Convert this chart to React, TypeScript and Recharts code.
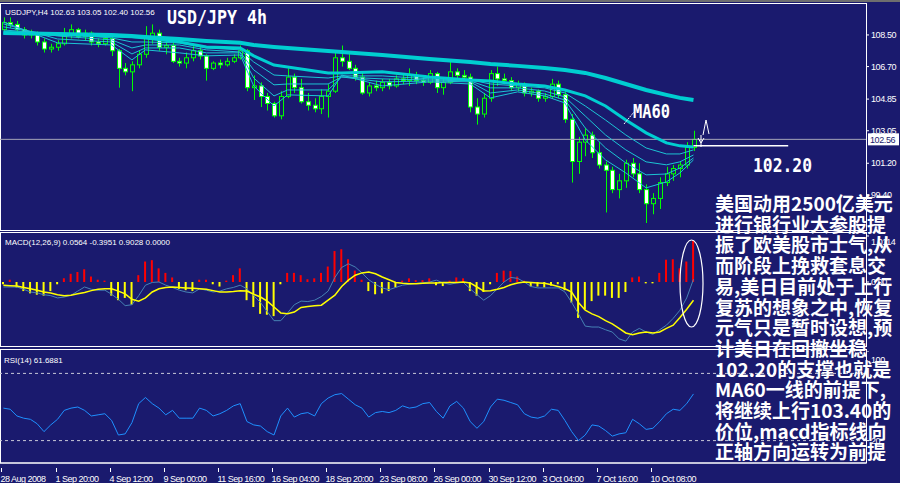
import React from "react";
import { ComposedChart, Bar, Line, XAxis, YAxis, ReferenceLine, Cell } from "recharts";

// USD/JPY H4, one slot = two 4h bars (8 hours)
const opens = [108.8, 109.2, 109.1, 108.8, 108.5, 108.6, 108.1, 107.7, 107.8, 108.0, 108.5, 108.8, 108.4, 108.6, 108.1, 108.0, 108.3, 107.6, 106.6, 106.4, 106.8, 107.4, 108.4, 108.6, 107.8, 107.9, 107.0, 106.9, 107.2, 107.6, 107.3, 106.6, 106.9, 106.8, 107.0, 107.2, 107.6, 105.5, 105.6, 105.0, 104.6, 103.9, 105.0, 106.1, 105.5, 104.7, 104.5, 104.3, 105.0, 105.3, 107.2, 107.0, 106.6, 106.1, 105.2, 105.6, 105.5, 105.8, 105.6, 106.0, 105.9, 106.2, 105.9, 105.8, 106.3, 105.5, 105.8, 106.4, 106.2, 106.1, 104.4, 104.0, 104.9, 106.3, 106.0, 105.9, 105.5, 105.7, 105.2, 105.3, 104.9, 105.0, 105.7, 105.1, 103.7, 101.3, 102.4, 102.8, 101.8, 101.1, 100.8, 99.7, 100.2, 101.2, 100.6, 99.7, 98.9, 99.2, 100.1, 100.6, 100.9, 101.1, 102.1];
const highs = [109.5, 109.5, 109.3, 108.95, 108.8, 108.7, 108.3, 108.0, 108.2, 108.9, 109.1, 108.9, 108.8, 108.7, 108.3, 108.4, 108.4, 107.7, 106.9, 107.0, 107.6, 109.0, 109.1, 108.8, 108.1, 108.2, 107.2, 107.5, 107.9, 107.8, 107.4, 107.0, 107.1, 107.2, 107.4, 107.9, 107.7, 106.2, 105.8, 105.2, 104.7, 105.3, 106.6, 106.3, 106.0, 105.2, 104.9, 105.4, 105.7, 107.6, 107.9, 107.5, 106.8, 106.4, 105.8, 105.9, 106.0, 106.0, 106.2, 106.3, 106.6, 106.4, 106.1, 106.5, 106.4, 106.0, 107.0, 106.6, 106.5, 106.3, 104.9, 105.2, 106.5, 106.7, 106.3, 106.1, 105.9, 105.8, 105.5, 105.4, 105.2, 106.0, 105.9, 105.3, 104.0, 102.7, 103.2, 103.0, 102.4, 101.3, 101.0, 100.6, 101.4, 101.5, 101.2, 100.0, 99.5, 100.4, 101.0, 101.1, 101.3, 102.4, 103.05];
const lows = [108.6, 108.9, 108.7, 108.3, 108.3, 107.9, 107.5, 107.5, 107.6, 107.9, 108.3, 108.3, 108.2, 107.9, 107.8, 107.9, 107.3, 105.5, 106.2, 105.3, 106.6, 107.2, 108.0, 107.6, 107.4, 106.9, 106.7, 106.6, 107.0, 107.1, 105.9, 106.5, 106.6, 106.7, 106.9, 107.1, 105.3, 104.8, 104.4, 104.2, 103.8, 103.7, 104.9, 105.2, 104.6, 104.2, 104.1, 104.0, 103.8, 105.2, 106.7, 106.5, 105.9, 105.1, 105.0, 105.3, 105.3, 105.4, 105.5, 105.7, 105.6, 105.7, 105.6, 105.7, 105.2, 105.1, 105.7, 106.0, 105.9, 104.1, 103.4, 103.8, 104.7, 105.6, 105.7, 105.3, 105.3, 105.0, 105.0, 104.7, 104.7, 104.9, 104.9, 103.5, 100.1, 100.6, 101.6, 101.5, 100.9, 98.4, 99.5, 99.2, 99.8, 100.4, 99.5, 97.8, 98.3, 98.6, 99.9, 100.2, 100.4, 100.9, 101.9];
const closes = [109.2, 109.1, 108.8, 108.5, 108.6, 108.1, 107.7, 107.8, 108.0, 108.5, 108.8, 108.4, 108.6, 108.1, 108.0, 108.3, 107.6, 106.6, 106.4, 106.8, 107.4, 108.4, 108.6, 107.8, 107.9, 107.0, 106.9, 107.2, 107.6, 107.3, 106.6, 106.9, 106.8, 107.0, 107.2, 107.6, 105.5, 105.6, 105.0, 104.6, 103.9, 105.0, 106.1, 105.5, 104.7, 104.5, 104.3, 105.0, 105.3, 107.2, 107.0, 106.6, 106.1, 105.2, 105.6, 105.5, 105.8, 105.6, 106.0, 105.9, 106.2, 105.9, 105.8, 106.3, 105.5, 105.8, 106.4, 106.2, 106.1, 104.4, 104.0, 104.9, 106.3, 106.0, 105.9, 105.5, 105.7, 105.2, 105.3, 104.9, 105.0, 105.7, 105.1, 103.7, 101.3, 102.4, 102.8, 101.8, 101.1, 100.8, 99.7, 100.2, 101.2, 100.6, 99.7, 98.9, 99.2, 100.1, 100.6, 100.9, 101.1, 102.1, 102.56];

// moving averages, read at these slots
const maSlots = [0, 8, 16, 19, 21, 26, 30, 35, 37, 40, 42, 48, 50, 56, 63, 69, 72, 76, 80, 83, 86, 89, 92, 95, 98, 100, 102];
const maSlow = [108.61, 108.56, 108.5, 108.44, 108.39, 108.27, 108.16, 108.05, 107.93, 107.82, 107.76, 107.59, 107.53, 107.36, 107.13, 106.96, 106.85, 106.74, 106.62, 106.51, 106.34, 106.05, 105.71, 105.37, 105.09, 104.92, 104.8];
const ma60 = [108.61, 108.56, 108.44, 108.39, 108.33, 108.1, 107.82, 107.76, 107.31, 106.79, 106.68, 106.34, 106.34, 106.4, 106.11, 105.94, 105.88, 105.71, 105.6, 105.37, 105.03, 104.46, 103.66, 102.93, 102.36, 102.19, 102.13];
const ribbon4 = [108.78, 108.56, 108.33, 108.1, 108.1, 108.05, 107.76, 107.65, 106.96, 106.22, 106.17, 106.05, 106.17, 106.17, 106.0, 105.94, 105.71, 105.6, 105.49, 105.2, 104.46, 103.66, 102.81, 102.07, 101.73, 101.73, 101.96];
const ribbon3 = [108.96, 108.44, 108.22, 107.76, 107.93, 107.93, 107.65, 107.53, 106.51, 105.66, 105.71, 105.71, 106.11, 106.0, 105.94, 105.88, 105.49, 105.49, 105.31, 104.97, 103.89, 102.81, 101.96, 101.28, 101.11, 101.28, 101.67];
const ribbon2 = [109.13, 108.27, 108.1, 107.42, 107.76, 107.76, 107.48, 107.48, 106.05, 105.03, 105.37, 105.37, 106.11, 105.83, 105.88, 105.83, 105.2, 105.37, 105.14, 104.8, 103.21, 102.07, 101.22, 100.54, 100.59, 100.93, 101.5];
const ribbon1 = [109.24, 108.05, 107.93, 107.08, 107.65, 107.48, 107.31, 107.36, 105.6, 104.46, 105.09, 105.03, 106.22, 105.6, 105.83, 105.71, 104.92, 105.26, 105.03, 104.63, 102.53, 101.39, 100.65, 99.8, 100.14, 100.65, 101.39];

const macdHist = [-0.05, 0.05, -0.12, -0.2, -0.25, -0.28, -0.3, -0.2, -0.05, 0.08, 0.18, 0.22, 0.28, 0.12, 0.05, 0.03, -0.3, -0.4, -0.35, -0.5, 0.15, 0.45, 0.48, 0.3, 0.2, 0.1, -0.15, -0.18, -0.2, 0.05, 0.05, -0.05, -0.1, 0.03, 0.15, 0.3, -0.4, -0.55, -0.7, -0.72, -0.75, -0.05, 0.2, 0.2, 0.15, 0.06, 0.08, 0.2, 0.34, 0.68, 0.72, 0.5, 0.25, 0.05, -0.2, -0.27, -0.25, -0.2, -0.12, 0.03, 0.08, 0.04, 0.04, 0.08, -0.07, -0.09, 0.03, 0.1, 0.08, -0.2, -0.3, -0.22, -0.05, 0.2, 0.25, 0.24, 0.12, 0.03, -0.1, -0.1, -0.12, -0.08, -0.05, -0.18, -0.45, -0.79, -0.6, -0.42, -0.3, -0.3, -0.35, -0.35, -0.22, 0.1, 0.12, -0.03, -0.03, 0.2, 0.49, 0.5, 0.3, 0.45, 0.9];
const macdMain = [-0.11, -0.11, -0.11, -0.16, -0.22, -0.24, -0.28, -0.3, -0.35, -0.33, -0.29, -0.2, -0.11, -0.16, -0.18, -0.18, -0.27, -0.38, -0.52, -0.5, -0.3, -0.07, -0.01, 0, -0.07, -0.12, -0.18, -0.22, -0.24, -0.15, -0.18, -0.22, -0.2, -0.15, -0.12, -0.07, -0.15, -0.3, -0.45, -0.65, -0.85, -0.85, -0.68, -0.5, -0.42, -0.43, -0.4, -0.32, -0.2, 0.1, 0.32, 0.4, 0.33, 0.2, 0.05, -0.05, -0.13, -0.17, -0.12, -0.07, -0.05, -0.03, -0.02, 0, 0.04, -0.02, -0.05, -0.02, -0.01, -0.15, -0.28, -0.4, -0.3, -0.15, 0, 0.1, 0.08, 0, -0.1, -0.13, -0.13, -0.13, -0.13, -0.22, -0.45, -0.7, -0.97, -0.99, -0.99, -1.05, -1.1, -1.25, -1.3, -1.1, -1.02, -1.1, -1.15, -1.05, -0.95, -0.8, -0.62, -0.35, 0.06];
const macdSignal = [-0.07, -0.08, -0.09, -0.12, -0.15, -0.18, -0.22, -0.24, -0.28, -0.3, -0.29, -0.26, -0.23, -0.19, -0.16, -0.15, -0.15, -0.2, -0.26, -0.38, -0.42, -0.35, -0.22, -0.15, -0.12, -0.11, -0.12, -0.13, -0.14, -0.15, -0.16, -0.19, -0.22, -0.22, -0.21, -0.19, -0.2, -0.27, -0.33, -0.42, -0.55, -0.68, -0.7, -0.66, -0.56, -0.54, -0.52, -0.51, -0.4, -0.29, -0.1, 0.04, 0.15, 0.2, 0.22, 0.18, 0.11, 0.05, -0.01, -0.03, -0.04, -0.04, -0.03, -0.02, -0.02, -0.01, -0.01, -0.01, 0, -0.02, -0.11, -0.2, -0.19, -0.16, -0.12, -0.06, -0.02, 0, -0.01, -0.02, -0.03, -0.06, -0.1, -0.15, -0.22, -0.45, -0.62, -0.7, -0.76, -0.85, -0.92, -1.02, -1.12, -1.16, -1.12, -1.1, -1.12, -1.1, -1.02, -0.95, -0.78, -0.6, -0.4];
const rsi = [49, 48, 42, 40, 39, 35, 28, 34, 39, 47, 49, 50, 47, 42, 43, 44, 38, 25, 26, 36, 53, 58.5, 53, 49, 43, 47, 40, 40, 40, 49, 47, 42, 44, 47, 51, 53, 37, 34, 33, 28, 25, 42, 49, 41, 44, 45, 42, 53, 58, 61, 62, 57, 52, 49, 41, 45, 46, 45, 47, 51, 49, 50, 53, 54, 46, 40, 51, 55, 49, 37, 31, 37, 50, 57, 56, 54, 52, 44, 41, 40, 42, 48, 47, 38, 28, 20, 25, 34, 33, 29, 24, 26, 27, 39, 35, 30, 31, 37, 44, 48, 47, 53, 61.69];

const timeLabels = ["28 Aug 2008", "1 Sep 20:00", "4 Sep 12:00", "9 Sep 00:00", "11 Sep 16:00", "16 Sep 04:00", "18 Sep 20:00", "23 Sep 08:00", "26 Sep 00:00", "30 Sep 12:00", "3 Oct 04:00", "7 Oct 16:00", "10 Oct 08:00"];
const priceTicks = [97.6, 99.4, 101.2, 103.05, 104.85, 106.7, 108.5];
const macdTicks = [-1.3772, 0, 1.0114];
const rsiTicks = [0, 20, 80, 100];
const rsiLevels = [80, 20];
const support = 102.2;

const notes = [
  "美国动用2500亿美元",
  "进行银行业大参股提",
  "振了欧美股市士气,从",
  "而阶段上挽救套息交",
  "易,美日目前处于上行",
  "复苏的想象之中,恢复",
  "元气只是暂时设想,预",
  "计美日在回撤坐稳",
  "102.20的支撑也就是",
  "MA60一线的前提下,",
  "将继续上行103.40的",
  "价位,macd指标线向",
  "正轴方向运转为前提",
];

const SLOTS = 128;
const TICK_EVERY = 8;
const BG = "#1a1a6e";
const GREEN = "#00ff00";
const W = 900;
const AXIS_W = 34;
const last = closes.length - 1;

const rows = Array.from({ length: SLOTS }, (_, i) => {
  const row: any = { i };
  if (i < opens.length) {
    row.open = opens[i];
    row.high = highs[i];
    row.low = lows[i];
    row.close = closes[i];
    row.hist = macdHist[i];
    row.macd = macdMain[i];
    row.signal = macdSignal[i];
    row.rsi = rsi[i];
  }
  const k = maSlots.indexOf(i);
  if (k >= 0) {
    row.slow = maSlow[k];
    row.ma60 = ma60[k];
    row.r4 = ribbon4[k];
    row.r3 = ribbon3[k];
    row.r2 = ribbon2[k];
    row.r1 = ribbon1[k];
  }
  return row;
});

function Candle(props: any) {
  const { x, y, width, height, payload } = props;
  if (!payload || payload.high == null || height == null) return null;
  const top = Math.min(y, y + height);
  const h = Math.abs(height);
  const span = payload.high - payload.low || 1;
  const yOf = (v: number) => top + ((payload.high - v) / span) * h;
  const cx = Math.round(x + width / 2) + 0.5;
  const bTop = yOf(Math.max(payload.open, payload.close));
  const bBot = yOf(Math.min(payload.open, payload.close));
  const bear = payload.close < payload.open;
  return (
    <g>
      <line x1={cx} x2={cx} y1={top} y2={top + h} stroke={GREEN} strokeWidth={1} />
      <rect x={cx - 2} y={bTop} width={4} height={Math.max(1, bBot - bTop)} fill={bear ? "#ffffff" : BG} stroke={GREEN} strokeWidth={1} />
    </g>
  );
}

const axisTick = (fmt: (v: number) => string) => (p: any) => (
  <text x={p.x} y={p.y + 3} fill="#ffffff" fontSize={9} letterSpacing={-0.4} textAnchor="start">
    {fmt(p.payload.value)}
  </text>
);

function TimeTick(p: any) {
  const idx = p.payload.value;
  if (idx % TICK_EVERY !== 0) return <g />;
  const label = timeLabels[idx / TICK_EVERY];
  if (!label) return <g />;
  const x = Math.round(p.x) - 1.5;
  return (
    <g>
      <line x1={x} x2={x} y1={p.y - 3} y2={p.y + 1} stroke="#ffffff" />
      <text x={x - 1} y={p.y + 11} fill="#ffffff" fontSize={9} letterSpacing={-0.5} textAnchor="start">
        {label}
      </text>
    </g>
  );
}

function PriceTag(p: any) {
  const vb = p.viewBox || {};
  const x = (vb.x || 0) + (vb.width || 0) + 2;
  const y = vb.y || 0;
  return (
    <g>
      <rect x={x} y={y - 6} width={31} height={12} fill="#ffffff" />
      <text x={x + 2} y={y + 3.5} fill={BG} fontSize={9} letterSpacing={-0.4}>
        {closes[last].toFixed(2)}
      </text>
    </g>
  );
}

const thick = { dot: false, isAnimationActive: false, connectNulls: true, type: "linear" as const };

export default function App() {
  return (
    <div style={{ position: "absolute", left: 0, top: 0, width: W, height: 483, background: BG, overflow: "hidden", fontFamily: "'Liberation Sans', Arial, sans-serif" }}>
      <div style={{ position: "absolute", left: 0, top: 0, width: W, height: 1.5, background: "#6e6e6e" }} />
      <svg width={W} height={483} style={{ position: "absolute", left: 0, top: 0 }}>
        <rect x={0.5} y={3.5} width={866} height={227} fill="none" stroke="#ffffff" />
        <rect x={0.5} y={232.5} width={866} height={114} fill="none" stroke="#ffffff" />
        <rect x={0.5} y={349.5} width={866} height={113.5} fill="none" stroke="#ffffff" />
      </svg>

      {/* price window */}
      <div style={{ position: "absolute", left: 0, top: 4 }}>
        <ComposedChart width={W} height={225} data={rows} margin={{ top: 0, right: 0, bottom: 0, left: 0 }}>
          <XAxis dataKey="i" hide scale="band" />
          <YAxis orientation="right" width={AXIS_W} domain={[97.46, 110.26]} ticks={priceTicks} axisLine={false} tickLine={{ stroke: "#ffffff" }} tickSize={3} tick={axisTick((v) => v.toFixed(2))} />
          <ReferenceLine y={closes[last]} stroke="#a4a4b8" strokeWidth={1} label={<PriceTag />} />
          <Line dataKey="slow" stroke="#00ced1" strokeWidth={4} {...thick} />
          <Line dataKey="r4" stroke="#1cc4d4" strokeWidth={1} {...thick} />
          <Line dataKey="r3" stroke="#1cc4d4" strokeWidth={1} {...thick} />
          <Line dataKey="r2" stroke="#1cc4d4" strokeWidth={1} {...thick} />
          <Line dataKey="r1" stroke="#1cc4d4" strokeWidth={1} {...thick} />
          <Line dataKey="ma60" stroke="#00ced1" strokeWidth={3} {...thick} />
          <Bar dataKey={(d: any) => (d.high == null ? null : [d.low, d.high])} shape={Candle} barSize={5} isAnimationActive={false} />
          <ReferenceLine segment={[{ x: last, y: support }, { x: last + 14, y: support }]} stroke="#ffffff" strokeWidth={1.5} />
        </ComposedChart>
      </div>

      {/* MACD window */}
      <div style={{ position: "absolute", left: 0, top: 233 }}>
        <ComposedChart width={W} height={113} data={rows} margin={{ top: 0, right: 0, bottom: 0, left: 0 }}>
          <XAxis dataKey="i" hide scale="band" />
          <YAxis orientation="right" width={AXIS_W} domain={[-1.407, 1.077]} ticks={macdTicks} axisLine={false} tickLine={{ stroke: "#ffffff" }} tickSize={3} tick={axisTick((v) => (v === 0 ? "0.00" : String(v)))} />
          <Bar dataKey="hist" barSize={2} isAnimationActive={false}>
            {rows.map((r) => (
              <Cell key={r.i} fill={r.hist >= 0 ? "#ff0000" : "#ffff00"} />
            ))}
          </Bar>
          <Line dataKey="macd" stroke="#4682b4" strokeWidth={1} dot={false} isAnimationActive={false} />
          <Line dataKey="signal" stroke="#ffff00" strokeWidth={1.5} dot={false} isAnimationActive={false} />
        </ComposedChart>
      </div>

      {/* RSI window */}
      <div style={{ position: "absolute", left: 0, top: 351 }}>
        <ComposedChart width={W} height={132} data={rows} margin={{ top: 0, right: 0, bottom: 0, left: 0 }}>
          <XAxis dataKey="i" scale="band" interval={0} height={20} axisLine={{ stroke: "#ffffff" }} tickLine={false} tick={TimeTick} />
          <YAxis orientation="right" width={AXIS_W} domain={[0, 100]} ticks={rsiTicks} axisLine={false} tickLine={{ stroke: "#ffffff" }} tickSize={3} tick={axisTick((v) => String(v))} />
          {rsiLevels.map((lv) => (
            <ReferenceLine key={lv} y={lv} stroke="#c8c8d8" strokeDasharray="3 3" />
          ))}
          <Line dataKey="rsi" stroke="#1e90ff" strokeWidth={1} dot={false} isAnimationActive={false} />
        </ComposedChart>
      </div>

      {/* labels and hand-drawn notes */}
      <svg width={W} height={483} style={{ position: "absolute", left: 0, top: 0, pointerEvents: "none" }}>
        <g fill="#ffffff" fontSize={8}>
          <text x={5} y={15}>USDJPY,H4  102.63 103.05 102.40 102.56</text>
          <text x={5} y={245}>MACD(12,26,9) 0.0564 -0.3951 0.9028 0.0000</text>
          <text x={4} y={363}>RSI(14) 61.6881</text>
        </g>
        <g fill="#ffffff" fontFamily="'DejaVu Sans Mono', monospace" fontWeight="bold" fontSize={20}>
          <text x={167} y={24} textLength={100} lengthAdjust="spacingAndGlyphs">USD/JPY 4h</text>
          <text x={633} y={118} textLength={37} lengthAdjust="spacingAndGlyphs">MA60</text>
          <text x={753} y={172} textLength={59} lengthAdjust="spacingAndGlyphs">102.20</text>
        </g>
        <line x1={624} y1={124} x2={634} y2={112} stroke="#ffffff" strokeWidth={1} strokeDasharray="2 1" />
        <polyline points="703,135 706,120 709,134" fill="none" stroke="#ffffff" strokeWidth={1} />
        <polyline points="698,138 701,143 704,138" fill="none" stroke="#ffffff" strokeWidth={1} />
        <line x1={701} y1={135} x2={701} y2={147} stroke="#ffffff" strokeWidth={1} />
        <ellipse cx={691.5} cy={283.5} rx={11.5} ry={43.5} fill="none" stroke="#ffffff" strokeWidth={1.2} />
        <g fill="#ffffff" fontFamily="'Noto Sans CJK SC', sans-serif" fontWeight="bold" fontSize={19}>
          {notes.map((t, k) => (
            <text key={k} x={715} y={211 + k * 20.7}>
              {t}
            </text>
          ))}
        </g>
      </svg>
    </div>
  );
}
